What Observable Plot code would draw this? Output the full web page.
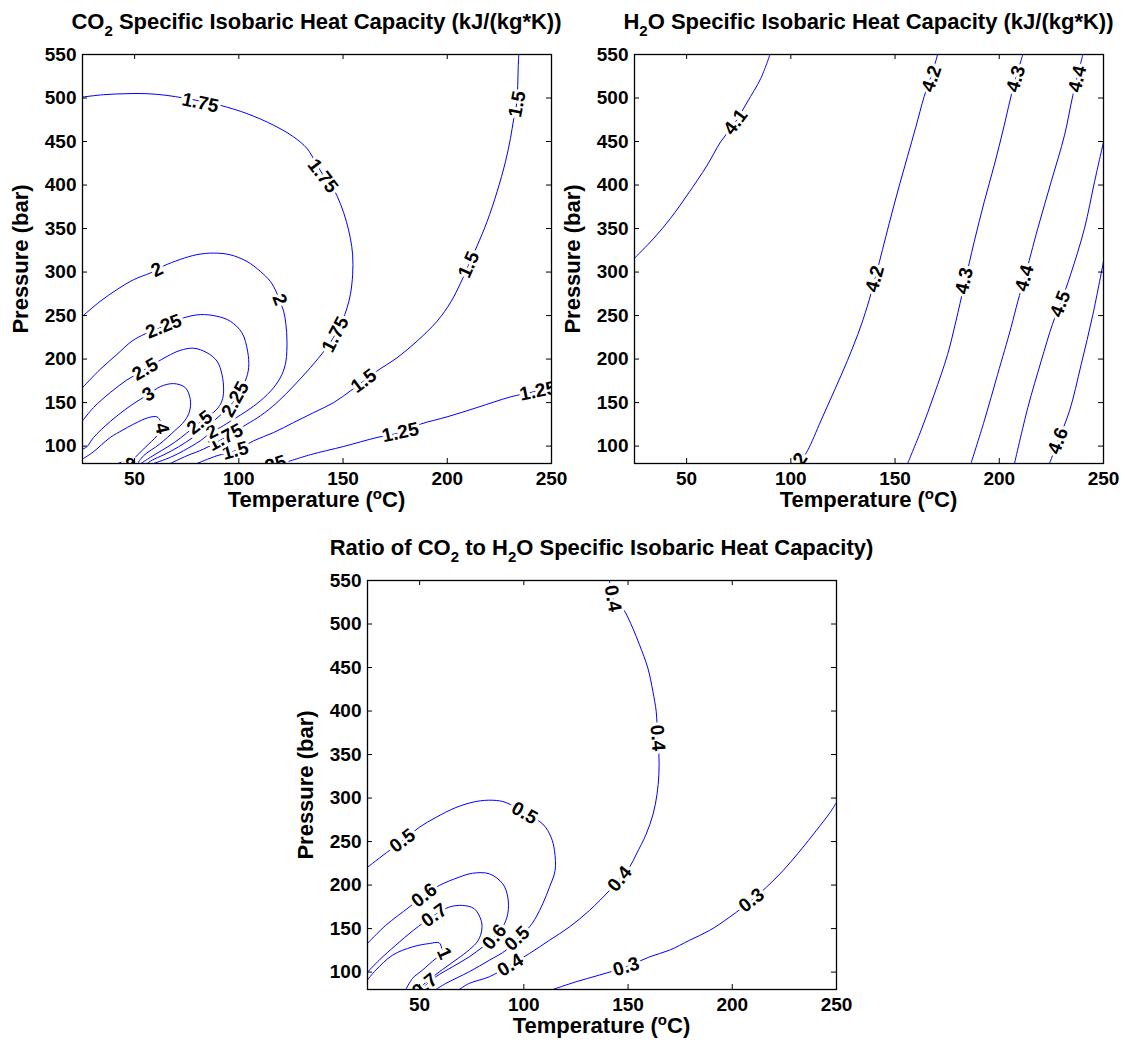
<!DOCTYPE html>
<html>
<head>
<meta charset="utf-8">
<script src="https://cdn.jsdelivr.net/npm/d3@7"></script>
<script src="https://cdn.jsdelivr.net/npm/@observablehq/plot@0.6"></script>
<style>
  html, body { margin: 0; padding: 0; background: #fff; }
  #page { position: relative; width: 1125px; height: 1049px; overflow: hidden;
          font-family: "Liberation Sans", Arial, Helvetica, sans-serif; font-weight: bold; color: #000; }
  .chart { position: absolute; }
  .title, .xlabel, .ylabel { position: absolute; font-size: 22px; line-height: 22px; white-space: nowrap; text-align: center; }
  .title sub { font-size: 15px; vertical-align: -7px; line-height: 0; }
  .xlabel sup { font-size: 15px; vertical-align: 8px; line-height: 0; }
  .ylabel { transform: translate(-50%, -50%) rotate(-90deg); }
</style>
</head>
<body>
<div id="page"></div>
<script>
// Axes shared by the three panels
const temperatureDomain = [25, 250];
const pressureDomain = [80, 550];
const temperatureTicks = [50, 100, 150, 200, 250];
const pressureTicks = [100, 150, 200, 250, 300, 350, 400, 450, 500, 550];

// ---- CO2 specific isobaric heat capacity isolines: [temperature °C, pressure bar]
const co2Cp1_25 = [[120.9,80],[134.3,90.1],[150.3,99.6],[166.3,109.9],[177.5,115.6],[187.1,125.2],[199.9,133.6],[214.3,144.3],[230.3,156.5],[241.5,162.4],[250,166.5]];
const co2Cp1_5 = [[79.9,80],[89.5,88.9],[98.3,94.7],[107.1,106.1],[116.7,115.6],[126.3,127.1],[135.9,138.5],[145.5,150],[153.5,163.4],[159.9,174.8],[166.3,186.3],[175.9,201.5],[185.5,220.6],[195.1,243.5],[201.8,266],[206.3,287],[210.3,308.4],[214.3,330],[219.1,358],[223.9,392.4],[227.9,426.7],[230.3,453.4],[231.9,476.3],[233.4,495],[233.8,514.5],[234,533.6],[234.3,550]];
const co2Cp1_75 = [[25,501.1],[35.1,503.8],[46.3,505],[55.9,505],[65.5,503],[73.5,500],[81.5,496.5],[91.1,491.6],[103.9,482.1],[116.7,468.7],[126.3,455.3],[132.7,442],[136.7,426.7],[140.5,411],[145.3,396],[148.8,378],[151.6,358],[153.5,338.9],[154.6,319.8],[154.6,296.9],[153.5,274],[151.9,258.8],[149.6,243.5],[146.3,228.2],[141.5,211.1],[134.3,190.1],[126.3,169.1],[118.3,150],[110.3,134.7],[103.9,125.2],[93.5,110],[83.1,96.6],[75.1,88.9],[67.1,80]];
const co2Cp2 = [[25,249.2],[33.5,266.4],[41.5,279.8],[49.5,291.2],[57.5,298.9],[60.7,302.7],[63.9,307],[71.9,314.5],[79.9,320],[87.9,321.8],[95.9,319.8],[103.9,312.2],[110.3,300.8],[115.1,289.3],[118,277],[119.8,266],[121.5,255],[122.6,239.7],[123.1,220.6],[122.6,197.7],[120.7,182.4],[116.7,167.2],[110.3,151.9],[103.9,140.5],[97.5,130.9],[91.1,121.4],[87.1,116.5],[81.5,106.1],[73.5,94.7],[67.1,87],[59.1,80]];
const co2Cp2_25 = [[25,167.2],[33.5,188.2],[41.5,205.3],[48.7,220.6],[55.1,229],[63.9,237.5],[73.5,247.3],[81.5,251.1],[89.5,249.2],[95.9,243.5],[101.5,230.2],[104.2,209.2],[104.7,190.1],[103.1,174.8],[98.3,153.8],[94,142],[89,131],[84,121],[78,110],[71,99],[64,90],[58.5,84],[56,80]];
const co2Cp2_5 = [[25,129],[30.3,144.3],[38.3,161.5],[46.3,176],[55.1,188.2],[65.5,203],[71.9,210],[78.3,212.5],[84.7,207.3],[89.5,197.7],[91.9,182.4],[92.7,163.4],[91.9,151.9],[89.5,142.4],[81.2,127.1],[75,115],[69,104],[63,95],[57.5,87],[53,80]];
const co2Cp3 = [[25,96.6],[27.1,99.2],[30.3,109.9],[38.3,128.2],[47.9,146.2],[56.7,159.5],[62.3,168.3],[68.7,171.8],[74.3,167.2],[76.7,153.8],[76.4,140.4],[74,129],[69.2,117.6],[62,102.3],[54.3,89],[51.4,80]];
const co2Cp4 = [[25,85.1],[30,93],[38.3,109.9],[44,118],[49.5,125.2],[56.7,132.8],[60.7,133.6],[62.3,129],[63.1,120.6],[60.7,111.8],[55.1,98.5],[50.3,87],[48.2,80]];
const co2Cp8 = [[42,80],[43.5,81.3],[46,81.6],[47.3,80]];
const co2Levels = [1.25, 1.5, 1.75, 2, 2.25, 2.5, 3, 4, 8];
const co2Lines = [co2Cp1_25, co2Cp1_5, co2Cp1_75, co2Cp2, co2Cp2_25, co2Cp2_5, co2Cp3, co2Cp4, co2Cp8];
// inline label anchors: [level, temperature, pressure]
const co2Labels = [
  [1.25,177.5,115.6],[1.25,243.5,163.2],[1.25,114,76.5],
  [1.5,98.3,94.7],[1.5,159.9,174.8],[1.5,210.3,308.4],[1.5,233.6,493],
  [1.75,81.5,494.5],[1.75,140.3,410.5],[1.75,146.3,228.2],[1.75,93.5,109.9],
  [2,60.7,302.7],[2,119.5,268.3],[2,87.1,116.5],
  [2.25,63.9,237.5],[2.25,98.3,153.8],
  [2.5,55.1,188.2],[2.5,81.2,127.1],
  [3,56.7,159.5],
  [4,63.1,120.6],
  [8,47,78.6]
];

// ---- H2O specific isobaric heat capacity isolines
const h2oCp4_1 = [[25,316],[34.3,338.9],[42.3,361.8],[50.3,388.5],[59.9,422.9],[66.3,449.6],[73.5,472.5],[79.1,495.4],[85.5,522.1],[90,550]];
const h2oCp4_2 = [[104,80],[108,94.7],[114.4,129],[120.8,163.4],[127.2,198.5],[133.6,238],[137.6,268],[140.8,296],[144,326],[147.2,356],[151.2,392],[156,433],[160,467],[164,502],[168,530],[170.4,550]];
const h2oCp4_3 = [[156,80],[162.4,117.6],[168.8,159.5],[175.2,205.3],[179.2,243.5],[183.2,285.5],[188,335.1],[192.8,380.9],[197.6,422.9],[202.4,468.7],[206.5,510.7],[211.3,550]];
const h2oCp4_4 = [[186.4,80],[192.8,129],[199.2,182.4],[205.6,235.9],[208.9,266.4],[212.1,293.1],[218.5,350.4],[224.9,403.8],[231.3,457.3],[235.3,503.1],[240.1,550]];
const h2oCp4_5 = [[207.3,80],[213.7,144.3],[220.1,197.7],[225.5,240],[229.3,263.4],[234.2,297],[240.9,350.4],[245.7,403.8],[250,449.6]];
const h2oCp4_6 = [[224.1,80],[228.2,106],[233.7,140.5],[239.3,193.9],[244.9,251.1],[250,312.2]];
const h2oLevels = [4.1, 4.2, 4.3, 4.4, 4.5, 4.6];
const h2oLines = [h2oCp4_1, h2oCp4_2, h2oCp4_3, h2oCp4_4, h2oCp4_5, h2oCp4_6];
const h2oLabels = [
  [4.1,73.5,472.5],
  [4.2,140.3,292],[4.2,167.5,522],[4.2,102.5,77.5],
  [4.3,183.2,290],[4.3,208,522],
  [4.4,212.1,293.1],[4.4,237.5,522],
  [4.5,229.3,263.4],
  [4.6,228.2,106]
];

// ---- CO2 / H2O heat capacity ratio isolines
const ratio0_3 = [[113.9,80],[125.1,88.9],[136.3,96.6],[149.1,106.1],[160.3,117.5],[169.9,125.2],[179.5,136.6],[189.2,148],[198.8,163.3],[209.2,182.4],[216.4,197.6],[224.4,216.7],[232.4,239],[240.4,263],[246.8,283],[250,294.8]];
const ratio0_4 = [[141.1,550],[142.7,529.4],[147.5,517.9],[152.3,495],[155.5,476],[159.5,449.3],[161.9,422.6],[163.5,399.7],[163.9,384.5],[164.2,369.2],[164.8,350.1],[164.8,327.3],[163.9,304.4],[162,281.5],[158.7,258.6],[154,235.7],[150.7,220.5],[146,207],[141.1,193.8],[131.5,170.9],[121.9,151.9],[112.3,136.6],[102.7,121.4],[93.5,108],[83.5,94.7],[73.8,87],[69,80]];
const ratio0_5 = [[25,220.5],[35.4,239.6],[41.8,251],[49.8,266.3],[57.8,277.7],[67.4,289.1],[77,296],[85.1,297.5],[91.5,294.8],[100.3,282.7],[109.1,270.1],[113.1,254.8],[114.7,239.6],[115,216.7],[112.3,197.6],[109.1,178.6],[105.9,163.3],[102.7,151.9],[96.8,138.5],[91.5,125.2],[83.5,113.7],[73.8,100.4],[62.6,87],[57.8,80]];
const ratio0_6 = [[25,133],[33.8,153.8],[45,174.7],[52.2,188.1],[59.4,199.5],[69,209.1],[75.4,213.6],[83.5,212.9],[89.9,201.4],[92.3,186.2],[92.3,167.1],[89.9,151.9],[85.9,140.4],[80.3,129],[73.8,117.5],[65.8,106.1],[57.8,94.7],[53,85.1],[50.6,80]];
const ratio0_7 = [[25,100],[30.6,113.7],[38.6,131],[47,148],[57,165.2],[64.2,174.7],[70.6,176.6],[76.2,172.8],[79.5,159.5],[79.8,148],[78,136],[74,126],[68,115],[61,103],[55,92],[51.5,85],[49,80]];
const ratio1 = [[25,91],[29,102.3],[37,119.4],[46.6,129],[54.6,132.8],[59.4,133.6],[60.7,127.1],[61.8,121.4],[57.8,115.6],[51.4,102.3],[46.6,92.8],[43.4,80]];
const ratioLevels = [0.3, 0.4, 0.5, 0.6, 0.7, 1];
const ratioLines = [ratio0_3, ratio0_4, ratio0_5, ratio0_6, ratio0_7, ratio1];
const ratioLabels = [
  [0.3,149.1,106.1],[0.3,209.2,182.4],
  [0.4,142.7,529.4],[0.4,164.2,369],[0.4,146,207],[0.4,93.5,108],
  [0.5,41.8,251],[0.5,100.3,282.7],[0.5,96.8,138.5],
  [0.6,52.2,188.1],[0.6,85.9,140.4],
  [0.7,57,165.2],[0.7,52.5,84.5],
  [1,61.8,121.4]
];

// ---- layout
const FRAME_W = 469, FRAME_H = 409;
const M = {left: 60, right: 25, top: 12, bottom: 30};
const FONT = '"Liberation Sans", Arial, Helvetica, sans-serif';
const page = document.getElementById("page");

// Label rows: text from the contour level, angle from the nearest segment in screen space
function labelRows(levels, lines, labels) {
  const kx = FRAME_W / (temperatureDomain[1] - temperatureDomain[0]);
  const ky = FRAME_H / (pressureDomain[1] - pressureDomain[0]);
  return labels.map(([level, t, p]) => {
    const pts = lines[levels.indexOf(level)];
    let best = Infinity, angle = 0;
    for (let j = 0; j < pts.length - 1; j++) {
      const ax = (pts[j][0] - t) * kx, ay = -(pts[j][1] - p) * ky;
      const bx = (pts[j + 1][0] - t) * kx, by = -(pts[j + 1][1] - p) * ky;
      const dx = bx - ax, dy = by - ay, len2 = dx * dx + dy * dy;
      let u = len2 ? -(ax * dx + ay * dy) / len2 : 0;
      u = Math.max(0, Math.min(1, u));
      const d = Math.hypot(ax + u * dx, ay + u * dy);
      if (d < best) { best = d; angle = Math.atan2(dy, dx) * 180 / Math.PI; }
    }
    if (angle > 90) angle -= 180;
    if (angle <= -90) angle += 180;
    return {t, p, text: String(level), rotate: angle};
  });
}

function contourPanel({levels, lines, labels, frameLeft, frameTop, titleHtml}) {
  const rows = lines.flatMap((pts, i) => pts.map(([t, p]) => ({id: i, level: levels[i], t, p})));
  const chart = Plot.plot({
    width: M.left + FRAME_W + M.right,
    height: M.top + FRAME_H + M.bottom,
    marginLeft: M.left, marginRight: M.right, marginTop: M.top, marginBottom: M.bottom,
    style: {fontFamily: FONT, fontWeight: "bold", fontSize: "19px", color: "#000", background: "#fff", overflow: "visible"},
    x: {domain: temperatureDomain},
    y: {domain: pressureDomain},
    marks: [
      Plot.line(rows, {x: "t", y: "p", z: "id", stroke: "#0000ff", strokeWidth: 1, curve: "catmull-rom", clip: true}),
      Plot.text(labelRows(levels, lines, labels), {
        x: "t", y: "p", text: "text", rotate: "rotate",
        fill: "#000", stroke: "#fff", strokeWidth: 6, paintOrder: "stroke",
        fontSize: 19, fontWeight: "bold", clip: true
      }),
      Plot.ruleX(temperatureTicks, {x: d => d, insetTop: FRAME_H - 5, stroke: "#000"}),
      Plot.ruleX(temperatureTicks, {x: d => d, insetBottom: FRAME_H - 5, stroke: "#000"}),
      Plot.ruleY(pressureTicks, {y: d => d, insetRight: FRAME_W - 5, stroke: "#000"}),
      Plot.ruleY(pressureTicks, {y: d => d, insetLeft: FRAME_W - 5, stroke: "#000"}),
      Plot.frame({stroke: "#000", strokeWidth: 1.3}),
      Plot.axisX(temperatureTicks, {tickSize: 0, tickPadding: 8, label: null, fontSize: 19, fontWeight: "bold"}),
      Plot.axisY(pressureTicks, {tickSize: 0, tickPadding: 6, label: null, fontSize: 19, fontWeight: "bold"})
    ]
  });
  chart.classList.add("chart");
  chart.style.left = (frameLeft - M.left) + "px";
  chart.style.top = (frameTop - M.top) + "px";
  page.appendChild(chart);

  const cx = frameLeft + FRAME_W / 2;
  const title = document.createElement("div");
  title.className = "title";
  title.innerHTML = titleHtml;
  title.style.left = (cx - 350) + "px";
  title.style.width = "700px";
  title.style.top = (frameTop - 43) + "px";
  page.appendChild(title);

  const xl = document.createElement("div");
  xl.className = "xlabel";
  xl.innerHTML = "Temperature (<sup>o</sup>C)";
  xl.style.left = (cx - 150) + "px";
  xl.style.width = "300px";
  xl.style.top = (frameTop + FRAME_H + 26) + "px";
  page.appendChild(xl);

  const yl = document.createElement("div");
  yl.className = "ylabel";
  yl.textContent = "Pressure (bar)";
  yl.style.left = (frameLeft - 61) + "px";
  yl.style.top = (frameTop + FRAME_H / 2) + "px";
  page.appendChild(yl);
}

contourPanel({levels: co2Levels, lines: co2Lines, labels: co2Labels, frameLeft: 82, frameTop: 54,
  titleHtml: "CO<sub>2</sub> Specific Isobaric Heat Capacity (kJ/(kg*K))"});
contourPanel({levels: h2oLevels, lines: h2oLines, labels: h2oLabels, frameLeft: 634, frameTop: 54,
  titleHtml: "H<sub>2</sub>O Specific Isobaric Heat Capacity (kJ/(kg*K))"});
contourPanel({levels: ratioLevels, lines: ratioLines, labels: ratioLabels, frameLeft: 367, frameTop: 580,
  titleHtml: "Ratio of CO<sub>2</sub> to H<sub>2</sub>O Specific Isobaric Heat Capacity)"});
</script>
</body>
</html>
